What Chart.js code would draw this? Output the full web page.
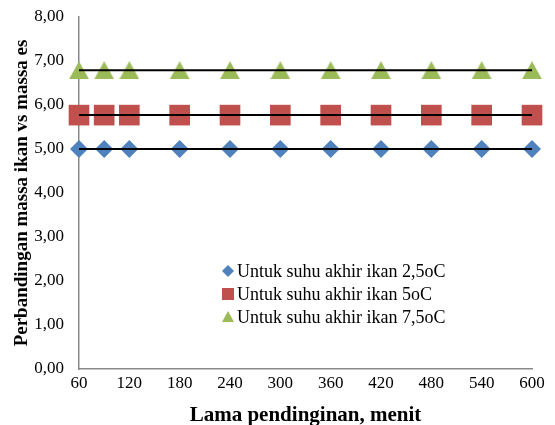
<!DOCTYPE html>
<html>
<head>
<meta charset="utf-8">
<script src="https://cdn.jsdelivr.net/npm/chart.js@4"></script>
<style>
  body { margin: 0; background: #fff; }
  #wrap { width: 555px; height: 425px; }
</style>
</head>
<body>
<div id="wrap"><canvas id="chart" width="555" height="425"></canvas></div>
<script>
const minutes = [60, 90, 120, 180, 240, 300, 360, 420, 480, 540, 600]
const ratio25 = [5.00, 5.00, 5.00, 5.00, 5.00, 5.00, 5.00, 5.00, 5.00, 5.00, 5.00]
const ratio50 = [5.77, 5.77, 5.77, 5.77, 5.77, 5.77, 5.77, 5.77, 5.77, 5.77, 5.77]
const ratio75 = [6.79, 6.79, 6.79, 6.79, 6.79, 6.79, 6.79, 6.79, 6.79, 6.79, 6.79]
const seriesNames = ['Untuk suhu akhir ikan 2,5oC', 'Untuk suhu akhir ikan 5oC', 'Untuk suhu akhir ikan 7,5oC']
const colors = ['#4F81BD', '#C0504D', '#9BBB59']

const SERIF = '"Liberation Serif", "Times New Roman", serif'

// triangle centred on its bounding box, like Excel draws it
function triangleMarker(w, h, color) {
  const c = document.createElement('canvas')
  c.width = w
  c.height = h
  const g = c.getContext('2d')
  g.fillStyle = color
  g.beginPath()
  g.moveTo(w / 2, 0)
  g.lineTo(w, h)
  g.lineTo(0, h)
  g.closePath()
  g.fill()
  return c
}

const toPoints = values => minutes.map((m, i) => ({ x: m, y: values[i] }))
const trend = values => {
  const mean = values.reduce((a, b) => a + b, 0) / values.length
  return [{ x: minutes[0], y: mean }, { x: minutes[minutes.length - 1], y: mean }]
}

const markerStyles = [
  { pointStyle: 'rectRot', pointRadius: 9 },
  { pointStyle: 'rect', pointRadius: 14.6 },
  { pointStyle: triangleMarker(20, 18, colors[2]), pointRadius: 10 }
]

const datasets = []
;[ratio25, ratio50, ratio75].forEach((values, i) => {
  datasets.push({
    type: 'scatter',
    label: seriesNames[i],
    data: toPoints(values),
    backgroundColor: colors[i],
    borderColor: colors[i],
    borderWidth: 0,
    pointHoverRadius: markerStyles[i].pointRadius,
    clip: false,
    order: 2,
    ...markerStyles[i]
  })
  datasets.push({
    type: 'line',
    label: 'trend',
    data: trend(values),
    borderColor: '#000',
    borderWidth: 2,
    pointRadius: 0,
    fill: false,
    clip: false,
    order: 1
  })
})

// legend drawn inside the plot area
const insideLegend = {
  id: 'insideLegend',
  afterDraw(chart) {
    const ctx = chart.ctx
    const x0 = 228
    const rows = [271, 294, 317]
    ctx.save()
    ctx.font = '18px ' + SERIF
    ctx.textBaseline = 'middle'
    rows.forEach((y, i) => {
      ctx.fillStyle = colors[i]
      ctx.beginPath()
      if (i === 0) {
        ctx.moveTo(x0 - 6, y); ctx.lineTo(x0, y - 6); ctx.lineTo(x0 + 6, y); ctx.lineTo(x0, y + 6)
      } else if (i === 1) {
        ctx.rect(x0 - 6, y - 6, 12, 12)
      } else {
        ctx.moveTo(x0, y - 6); ctx.lineTo(x0 + 6, y + 5); ctx.lineTo(x0 - 6, y + 5)
      }
      ctx.closePath()
      ctx.fill()
      ctx.fillStyle = '#000'
      ctx.fillText(seriesNames[i], x0 + 9, y + 1)
    })
    ctx.restore()
  }
}

new Chart(document.getElementById('chart'), {
  data: { datasets },
  options: {
    responsive: false,
    animation: false,
    layout: { padding: { top: 17, right: 23, left: 0, bottom: 0 } },
    plugins: {
      legend: { display: false },
      tooltip: { enabled: false }
    },
    scales: {
      x: {
        type: 'linear',
        min: 60,
        max: 600,
        grid: { display: false, drawTicks: false },
        border: { color: '#898989', width: 1.5 },
        ticks: {
          stepSize: 60,
          padding: 4,
          color: '#000',
          font: { family: SERIF, size: 17 }
        },
        title: {
          display: true,
          text: 'Lama pendinginan, menit',
          color: '#000',
          font: { family: SERIF, size: 21, weight: 'bold', lineHeight: 1 },
          padding: { top: 0, bottom: -1 }
        },
        afterFit(scale) { scale.height = 56 }
      },
      y: {
        min: 0,
        max: 8,
        grid: { display: false, drawTicks: false },
        border: { color: '#898989', width: 1.5 },
        ticks: {
          stepSize: 1,
          padding: 15,
          color: '#000',
          font: { family: SERIF, size: 17 },
          callback: v => v.toFixed(2).replace('.', ',')
        },
        title: {
          display: true,
          text: 'Perbandingan massa ikan vs massa es',
          color: '#000',
          font: { family: SERIF, size: 19, weight: 'bold', lineHeight: 1.2 },
          padding: { top: 11, bottom: 0 }
        },
        afterFit(scale) {
          scale.width = 79
          scale.paddingTop = 0
          scale.paddingBottom = 0
        }
      }
    }
  },
  plugins: [insideLegend]
})
</script>
</body>
</html>
